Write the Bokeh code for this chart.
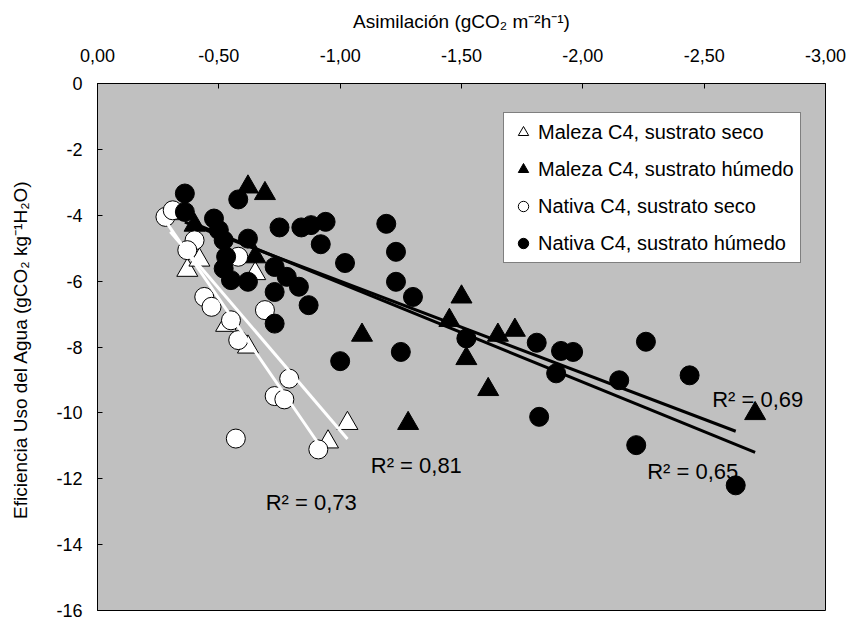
import numpy as np
from bokeh.plotting import figure
from bokeh.models import Range1d, FixedTicker, Legend, LegendItem, Label
from bokeh.embed import file_html
from bokeh.resources import INLINE

# ---------------- data ----------------
maleza_seco_x = [-0.30, -0.37, -0.42, -0.53, -0.62, -0.65, -1.03, -0.95]
maleza_seco_y = [-3.95, -5.67, -5.36, -7.34, -8.00, -5.77, -10.32, -10.88]

maleza_hum_x = [-0.62, -0.69, -0.40, -0.65, -1.09, -1.50, -1.45, -1.52, -1.61, -1.65, -1.72, -1.28, -2.71]
maleza_hum_y = [-3.14, -3.34, -4.30, -5.26, -7.64, -6.48, -7.19, -8.35, -9.29, -7.64, -7.49, -10.32, -10.02]

nativa_seco_x = [-0.28, -0.31, -0.40, -0.37, -0.58, -0.44, -0.47, -0.69, -0.55, -0.58, -0.79, -0.73, -0.77, -0.57, -0.91]
nativa_seco_y = [-4.05, -3.85, -4.76, -5.06, -5.26, -6.48, -6.78, -6.88, -7.19, -7.79, -8.96, -9.49, -9.59, -10.78, -11.11]

nativa_hum_x = [-0.36, -0.58, -0.36, -0.48, -0.75, -0.84, -0.88, -0.94, -1.19, -0.62, -0.50, -0.52, -0.92,
                -0.53, -1.02, -0.73, -0.52, -0.78, -0.55, -0.62, -0.83, -0.73, -0.87, -0.73, -1.00, -1.23,
                -1.23, -1.30, -1.25, -1.52, -1.81, -1.89, -1.91, -1.96, -1.82, -2.15, -2.26, -2.44, -2.22, -2.63]
nativa_hum_y = [-3.34, -3.52, -3.90, -4.10, -4.37, -4.37, -4.30, -4.20, -4.26, -4.71, -4.45, -4.76, -4.88,
                -5.26, -5.45, -5.57, -5.62, -5.87, -5.97, -6.02, -6.17, -6.33, -6.73, -7.29, -8.43, -5.11,
                -6.02, -6.48, -8.15, -7.74, -7.87, -8.80, -8.12, -8.15, -10.12, -9.01, -7.84, -8.86, -10.98, -12.20]

series_names = ["Maleza C4, sustrato seco", "Maleza C4, sustrato húmedo",
                "Nativa C4, sustrato seco", "Nativa C4, sustrato húmedo"]
r2_labels = ["R² = 0,81", "R² = 0,69", "R² = 0,73", "R² = 0,65"]

x_ticks = [0.0, -0.5, -1.0, -1.5, -2.0, -2.5, -3.0]
x_tick_labels = ["0,00", "-0,50", "-1,00", "-1,50", "-2,00", "-2,50", "-3,00"]
y_ticks = [0, -2, -4, -6, -8, -10, -12, -14, -16]
y_tick_labels = ["0", "-2", "-4", "-6", "-8", "-10", "-12", "-14", "-16"]

FONT = "Liberation Sans"

p = figure(width=850, height=621, output_backend="svg", toolbar_location=None,
           x_range=Range1d(0, -3), y_range=Range1d(-16, 0),
           x_axis_location="above",
           min_border_left=97, min_border_right=25, min_border_top=83, min_border_bottom=11)
p.background_fill_color = "#C0C0C0"
p.border_fill_color = "white"
p.outline_line_color = "black"
p.outline_line_width = 1
p.xgrid.visible = False
p.ygrid.visible = False

xa = p.xaxis[0]
xa.ticker = FixedTicker(ticks=x_ticks)
xa.major_label_overrides = {t: l for t, l in zip(x_ticks, x_tick_labels)}
xa.axis_label = "Asimilación (gCO₂ m⁻²h⁻¹)"
ya = p.yaxis[0]
ya.ticker = FixedTicker(ticks=y_ticks)
ya.major_label_overrides = {t: l for t, l in zip(y_ticks, y_tick_labels)}
ya.axis_label = "Eficiencia Uso del Agua  (gCO₂ kg⁻¹H₂O)"

for ax in (xa, ya):
    ax.axis_line_color = "black"
    ax.major_tick_line_color = "black"
    ax.major_tick_in = 5
    ax.major_tick_out = 0
    ax.minor_tick_line_color = None
    ax.major_label_text_font = FONT
    ax.major_label_text_font_size = "18px"
    ax.major_label_text_color = "black"
    ax.axis_label_text_font = FONT
    ax.axis_label_text_font_size = "19px"
    ax.axis_label_text_font_style = "normal"
    ax.axis_label_text_color = "black"
xa.major_label_standoff = 22
xa.axis_label_standoff = 14
ya.major_label_standoff = 15
ya.axis_label_standoff = 22

r1 = p.scatter(maleza_seco_x, maleza_seco_y, marker="triangle", size=21,
               fill_color="white", line_color="black", line_width=1)
r2 = p.scatter(maleza_hum_x, maleza_hum_y, marker="triangle", size=21,
               fill_color="black", line_color="black", line_width=1)
r3 = p.scatter(nativa_seco_x, nativa_seco_y, marker="circle", size=19,
               fill_color="white", line_color="black", line_width=1)
r4 = p.scatter(nativa_hum_x, nativa_hum_y, marker="circle", size=19,
               fill_color="black", line_color="black", line_width=1)

# linear trendlines computed from the data
def trend(xs, ys):
    xs = np.asarray(xs); ys = np.asarray(ys)
    m, b = np.polyfit(xs, ys, 1)
    lx = np.array([xs.max(), xs.min()])
    return lx, m * lx + b

for xs, ys, col in [(maleza_seco_x, maleza_seco_y, "white"),
                    (nativa_seco_x, nativa_seco_y, "white"),
                    (maleza_hum_x, maleza_hum_y, "black"),
                    (nativa_hum_x, nativa_hum_y, "black")]:
    lx, ly = trend(xs, ys)
    p.line(lx, ly, line_color=col, line_width=3)

# R² labels
for txt, lx, ly in [(r2_labels[0], -1.126, -11.59), (r2_labels[1], -2.533, -9.58),
                    (r2_labels[2], -0.693, -12.71), (r2_labels[3], -2.265, -11.79)]:
    p.add_layout(Label(x=lx, y=ly, text=txt, text_font=FONT, text_font_size="22px",
                       text_color="black", text_baseline="alphabetic", text_align="left"))

legend = Legend(items=[LegendItem(label=series_names[0], renderers=[r1]),
                       LegendItem(label=series_names[1], renderers=[r2]),
                       LegendItem(label=series_names[2], renderers=[r3]),
                       LegendItem(label=series_names[3], renderers=[r4])],
                location=(406, 347))
legend.label_text_font = FONT
legend.label_text_font_size = "20px"
legend.label_text_color = "black"
legend.glyph_width = 26
legend.glyph_height = 26
legend.label_height = 26
legend.spacing = 11
legend.padding = 6
legend.margin = 0
legend.label_standoff = 2
legend.border_line_color = "black"
legend.border_line_width = 1
legend.background_fill_color = "white"
legend.background_fill_alpha = 1.0
p.add_layout(legend, "center")

open("out.html", "w").write(file_html(p, INLINE))
